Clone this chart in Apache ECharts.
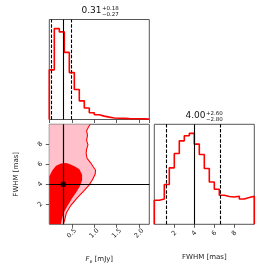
<!DOCTYPE html>
<html><head><meta charset="utf-8">
<script src="https://cdn.jsdelivr.net/npm/echarts@6/dist/echarts.min.js"></script>
<style>html,body{margin:0;padding:0;background:#fff}#c{width:274px;height:274px}</style>
</head><body><div id="c"></div>
<script>
// ---- data ----
const fluxRange = [0, 2.225];
const fwhmRange = [0, 10];
const fluxTicks = [0.5, 1.0, 1.5, 2.0];
const fwhmTicks = [2, 4, 6, 8];
const fluxHist = [54.6, 100, 96.4, 73.8, 51.6, 33.0, 20.5, 12.7, 7.5, 5.2, 3.7, 2.6, 1.7, 1.3, 1.2, 1.0, 0.9, 0.8, 0.7, 0.6];
const fwhmHist = [26.5, 27.9, 43.8, 62.1, 77.9, 91.8, 97.4, 100, 88.2, 76.8, 61.4, 46.6, 38.6, 32.0, 30.5, 30.1, 30.9, 27.9, 29.4, 30.9];
const fluxQuantiles = [0.04, 0.31, 0.49];
const fwhmQuantiles = [1.2, 4.0, 6.6];
const fluxTitle = ['0.31', '+0.18', '\u22120.27'];
const fwhmTitle = ['4.00', '+2.60', '\u22122.80'];
const contourOuter = [[0.31,0],[0.34,0.4],[0.38,1.15],[0.48,1.9],[0.62,2.65],[0.76,3.3],[0.88,3.9],[0.96,4.45],[1.02,5.0],[1.03,5.4],[0.97,5.8],[0.92,6.15],[0.84,6.6],[0.82,7.1],[0.83,7.5],[0.86,7.95],[0.83,8.4],[0.85,8.9],[0.83,9.35],[0.87,9.7],[0.91,10]];
const contourInner = [[0.26,0],[0.28,0.5],[0.32,1.15],[0.4,1.8],[0.5,2.55],[0.6,3.2],[0.68,3.8],[0.73,4.4],[0.73,4.95],[0.67,5.5],[0.56,5.8],[0.46,6.0],[0.38,6.12],[0.26,6.07],[0.15,5.85],[0.07,5.4],[0,4.8]];
const bestFit = [0.31, 4.0];

// ---- helpers ----
function stepPoints(hist, range) {
  const n = hist.length, w = (range[1] - range[0]) / n;
  const pts = [[range[0], 0]];
  hist.forEach((h, i) => { pts.push([range[0] + i * w, h]); pts.push([range[0] + (i + 1) * w, h]); });
  pts.push([range[1], 0]);
  return pts;
}
const inTicks = (ticks) => (v) => ticks.some(t => Math.abs(t - v) < 1e-9);
const tickCol = '#333';
function xAxisCfg(gi, range, interval, ticks, fmt, showLabels, name) {
  return {
    type: 'value', gridIndex: gi, min: range[0], max: range[1], interval: interval,
    axisLine: { show: false }, splitLine: { show: false },
    axisTick: { show: true, inside: false, length: 3.5, lineStyle: { color: tickCol, width: 0.8 } },
    axisLabel: {
      show: showLabels, rotate: 45, align: 'center', verticalAlign: 'middle', margin: 9,
      fontSize: 6.5, color: '#222', fontFamily: 'DejaVu Sans',
      showMinLabel: false, showMaxLabel: false,
      formatter: (v) => inTicks(ticks)(v) ? fmt(v) : ''
    },
    name: name || '', nameLocation: 'middle', nameGap: 29,
    nameTextStyle: { fontSize: 7, color: '#222', fontFamily: 'DejaVu Sans',
      rich: { i: { fontStyle: 'italic', fontSize: 7, fontFamily: 'DejaVu Sans', lineHeight: 11 },
              s: { fontStyle: 'italic', fontSize: 5, fontFamily: 'DejaVu Sans', lineHeight: 5, verticalAlign: 'bottom' },
              n: { fontSize: 7, fontFamily: 'DejaVu Sans', lineHeight: 11 } } }
  };
}
const qLine = (q, i) => ({ xAxis: q, lineStyle: { color: '#000', width: 1.1, type: i === 1 ? 'solid' : [3.5, 1.6] } });
const tStyle = (fs) => ({ fontSize: fs, fontWeight: 'normal', color: '#111', fontFamily: 'DejaVu Sans' });

const option = {
  animation: false,
  backgroundColor: '#fff',
  title: [
    { text: fluxTitle[0], left: 81.5, top: 6.5, padding: 0, textStyle: tStyle(9) },
    { text: fluxTitle[1], left: 102, top: 6, padding: 0, textStyle: tStyle(5.5) },
    { text: fluxTitle[2], left: 102, top: 12, padding: 0, textStyle: tStyle(5.5) },
    { text: fwhmTitle[0], left: 185.5, top: 111.5, padding: 0, textStyle: tStyle(9) },
    { text: fwhmTitle[1], left: 206, top: 111, padding: 0, textStyle: tStyle(5.5) },
    { text: fwhmTitle[2], left: 206, top: 117, padding: 0, textStyle: tStyle(5.5) }
  ],
  grid: [
    { left: 49.3, top: 19.5, width: 100, height: 100, show: true, borderColor: '#555', borderWidth: 1, backgroundColor: 'transparent' },
    { left: 49.3, top: 124.3, width: 100, height: 100, show: true, borderColor: '#555', borderWidth: 1, backgroundColor: 'transparent' },
    { left: 154.3, top: 124.3, width: 100, height: 100, show: true, borderColor: '#555', borderWidth: 1, backgroundColor: 'transparent' }
  ],
  xAxis: [
    xAxisCfg(0, fluxRange, 0.5, fluxTicks, v => v.toFixed(1), false),
    xAxisCfg(1, fluxRange, 0.5, fluxTicks, v => v.toFixed(1), true, '{i|F}{s|\u03bd}{n| [mJy]}'),
    xAxisCfg(2, fwhmRange, 2, fwhmTicks, v => String(v), true, 'FWHM [mas]')
  ],
  yAxis: [
    { type: 'value', gridIndex: 0, min: 0, max: 110, show: false, splitLine: { show: false } },
    {
      type: 'value', gridIndex: 1, min: fwhmRange[0], max: fwhmRange[1], interval: 2,
      axisLine: { show: false }, splitLine: { show: false },
      axisTick: { show: true, inside: false, length: 3.5, lineStyle: { color: tickCol, width: 0.8 } },
      axisLabel: { rotate: 45, align: 'center', verticalAlign: 'middle', margin: 9, fontSize: 6.5, color: '#222', fontFamily: 'DejaVu Sans',
        showMinLabel: false, showMaxLabel: false, formatter: (v) => inTicks(fwhmTicks)(v) ? String(v) : '' },
      name: 'FWHM [mas]', nameLocation: 'middle', nameGap: 30, nameTextStyle: { fontSize: 7, color: '#222', fontFamily: 'DejaVu Sans' }
    },
    { type: 'value', gridIndex: 2, min: 0, max: 110, show: false, splitLine: { show: false } }
  ],
  series: [
    {
      type: 'line', xAxisIndex: 0, yAxisIndex: 0, data: stepPoints(fluxHist, fluxRange),
      showSymbol: false, symbol: 'none', lineStyle: { color: '#ff0000', width: 1.6 }, z: 3,
      markLine: { silent: true, symbol: 'none', label: { show: false }, data: fluxQuantiles.map(qLine) }
    },
    {
      type: 'line', xAxisIndex: 2, yAxisIndex: 2, data: stepPoints(fwhmHist, fwhmRange),
      showSymbol: false, symbol: 'none', lineStyle: { color: '#ff0000', width: 1.6 }, z: 3,
      markLine: { silent: true, symbol: 'none', label: { show: false }, data: fwhmQuantiles.map(qLine) }
    },
    {
      type: 'custom', xAxisIndex: 1, yAxisIndex: 1, data: [[0, 0]], clip: true, z: 1,
      renderItem: (params, api) => {
        const outerPoly = [[fluxRange[0], fwhmRange[0]]].concat(contourOuter, [[fluxRange[0], fwhmRange[1]]]);
        const innerPoly = [[fluxRange[0], fwhmRange[0]]].concat(contourInner);
        return { type: 'group', children: [
          { type: 'polygon', shape: { points: outerPoly.map(p => api.coord(p)) }, style: { fill: '#ffc0cb', stroke: null } },
          { type: 'polygon', shape: { points: innerPoly.map(p => api.coord(p)) }, style: { fill: '#ff0000', stroke: null } },
          { type: 'polyline', shape: { points: contourOuter.map(p => api.coord(p)) }, style: { fill: null, stroke: '#ff0000', lineWidth: 1.1 } }
        ] };
      }
    },
    {
      type: 'scatter', xAxisIndex: 1, yAxisIndex: 1, data: [bestFit], symbol: 'rect', symbolSize: 5,
      itemStyle: { color: '#000' }, z: 5,
      markLine: { silent: true, symbol: 'none', label: { show: false },
        data: [{ xAxis: bestFit[0] }, { yAxis: bestFit[1] }], lineStyle: { color: '#000', width: 1.2, type: 'solid' } }
    }
  ]
};
echarts.init(document.getElementById('c'), null, { renderer: 'canvas' }).setOption(option);
</script></body></html>
